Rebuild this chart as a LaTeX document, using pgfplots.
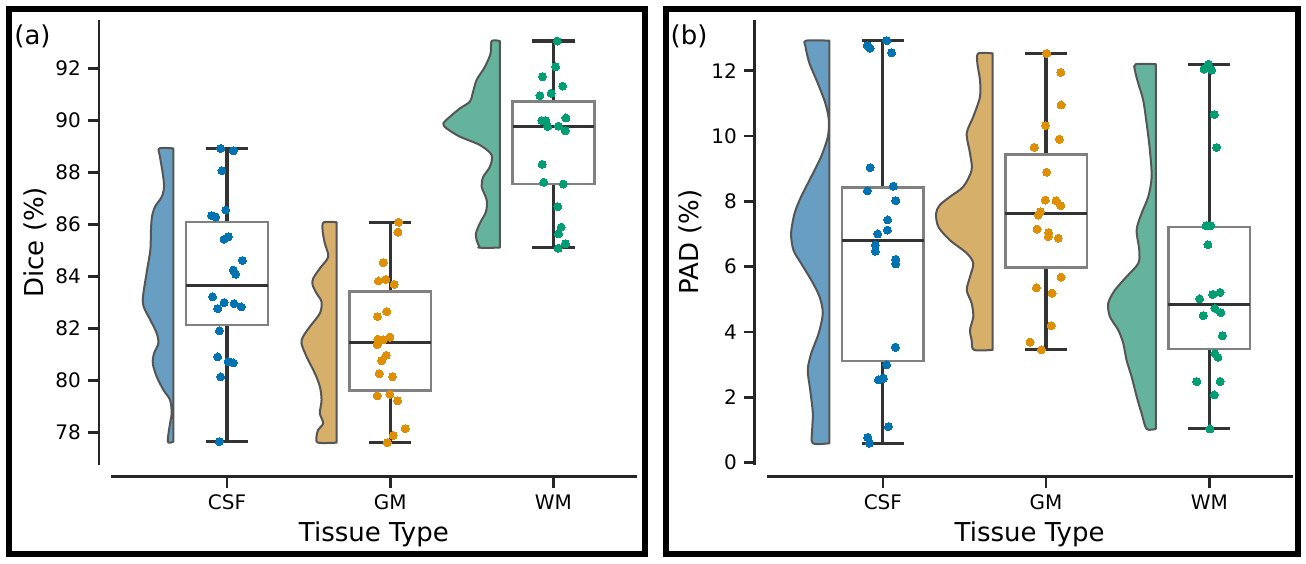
\documentclass[border=0pt]{standalone}
\usepackage{fontspec}
\setmainfont{DejaVu Sans}
\usepackage{pgfplots}
\pgfplotsset{compat=1.18}
\usepgfplotslibrary{statistics}
\definecolor{cbBlue}{HTML}{0173B2}
\definecolor{cbOrange}{HTML}{DE8F05}
\definecolor{cbGreen}{HTML}{029E73}
\definecolor{vBlue}{RGB}{103,158,194}
\definecolor{vOrange}{RGB}{214,175,107}
\definecolor{vGreen}{RGB}{102,179,157}
\definecolor{edgeGray}{RGB}{85,85,85}
\definecolor{boxGray}{RGB}{128,128,128}
\definecolor{darkGray}{RGB}{51,51,51}
\pgfplotsset{
  rain/.style={
    scale only axis, width=262.85pt, height=222.25pt, anchor=south west,
    xmin=-0.711, xmax=2.510,
    axis lines=left, axis line style={-, line width=1.35pt, color=black!85},
    axis x line shift=6pt, axis y line shift=6pt,
    tick align=outside, major tick length=5.5pt,
    tick style={line width=1.35pt, color=black!85},
    xtick={0,1,2}, xticklabels={CSF,GM,WM},
    ticklabel style={font=\fontsize{10}{12}\selectfont},
    /pgf/number format/assume math mode=true,
    every axis x label/.style={at={(axis description cs:0.5,0)}, anchor=base, yshift=-38.6pt, font=\fontsize{13}{15}\selectfont},
    every axis y label/.style={at={(axis description cs:0,0.5)}, xshift=-38pt, anchor=center, rotate=90, font=\fontsize{13}{15}\selectfont},
    xlabel={Tissue Type},
    clip=false,
  },
  vio/.style={draw=edgeGray, line width=1pt, line join=round, fill=#1, smooth, tension=0.5},
  pts/.style={only marks, mark=*, mark size=2pt, mark options={draw=#1, fill=#1, line width=0pt}},
  mybox/.style={boxplot/draw direction=y, boxplot/box extend=0.5, boxplot/whisker extend=0.26,
    draw=boxGray, line width=1.25pt,
    boxplot/every whisker/.style={draw=darkGray, line width=1.6pt},
    boxplot/every median/.style={draw=darkGray, line width=1.5pt}},
}
\begin{document}
\begin{tikzpicture}
\useasboundingbox (0,0) rectangle (653pt,281.5pt);
\draw[line width=3pt] (4.5pt,4.5pt) rectangle (322.5pt,277pt);
\draw[line width=3pt] (332.85pt,4.5pt) rectangle (649pt,277pt);
\node[font=\fontsize{13}{15}\selectfont] at (16.25pt,263.15pt) {(a)};
\node[font=\fontsize{13}{15}\selectfont] at (344.5pt,263.15pt) {(b)};
% ---------- panel (a) ----------
\begin{axis}[rain, at={(55.5pt,49.25pt)}, ymin=76.76, ymax=93.86, ytick={78,80,...,92}, ylabel={Dice (\%)}]
\addplot[vio=vBlue] coordinates {(-0.329,88.92) (-0.415,88.92) (-0.411,88.60) (-0.394,87.96) (-0.386,87.45) (-0.400,87.06) (-0.441,86.68) (-0.460,86.29) (-0.466,85.78) (-0.470,85.01) (-0.490,84.24) (-0.515,83.22) (-0.511,82.83) (-0.470,82.32) (-0.431,81.81) (-0.421,81.42) (-0.447,81.04) (-0.455,80.65) (-0.431,80.14) (-0.390,79.63) (-0.349,79.24) (-0.339,78.73) (-0.349,78.35) (-0.363,77.64) (-0.329,77.64)} -- cycle;
\addplot[vio=vOrange] coordinates {(0.671,86.08) (0.593,86.08) (0.585,85.78) (0.599,85.27) (0.620,84.75) (0.569,84.31) (0.528,83.92) (0.524,83.67) (0.548,83.35) (0.579,83.02) (0.569,82.58) (0.507,82.06) (0.466,81.68) (0.456,81.42) (0.487,80.91) (0.538,80.27) (0.569,79.75) (0.579,79.24) (0.569,78.73) (0.589,78.35) (0.558,78.09) (0.548,77.83) (0.558,77.60) (0.671,77.60)} -- cycle;
\addplot[vio=vGreen] coordinates {(1.672,93.05) (1.621,93.05) (1.615,92.58) (1.580,92.06) (1.529,91.55) (1.505,91.04) (1.488,90.72) (1.427,90.46) (1.366,90.14) (1.325,89.88) (1.345,89.69) (1.427,89.37) (1.549,89.05) (1.621,88.67) (1.611,88.22) (1.570,87.83) (1.560,87.45) (1.591,86.93) (1.586,86.48) (1.549,86.04) (1.525,85.65) (1.529,85.40) (1.545,85.14) (1.545,85.10) (1.672,85.10)} -- cycle;
\addplot[mybox, boxplot prepared={draw position=0, lower whisker=77.64, lower quartile=82.13, median=83.63, upper quartile=86.08, upper whisker=88.92}] coordinates {};
\addplot[mybox, boxplot prepared={draw position=1, lower whisker=77.60, lower quartile=79.60, median=81.45, upper quartile=83.41, upper whisker=86.08}] coordinates {};
\addplot[mybox, boxplot prepared={draw position=2, lower whisker=85.10, lower quartile=87.55, median=89.78, upper quartile=90.72, upper whisker=93.05}] coordinates {};
\addplot[pts=cbBlue] coordinates {(-0.039,88.92) (0.038,88.83) (-0.031,88.06) (-0.008,86.55) (-0.094,86.34) (-0.069,86.28) (-0.018,85.43) (0.008,85.52) (0.094,84.61) (0.038,84.24) (0.053,84.08) (-0.088,83.21) (-0.018,82.99) (-0.057,82.76) (0.043,82.95) (0.088,82.82) (-0.047,81.90) (-0.057,80.90) (0.008,80.72) (0.038,80.67) (-0.039,80.13) (-0.047,77.64)};
\addplot[pts=cbOrange] coordinates {(1.051,86.08) (1.047,85.70) (0.957,84.53) (0.928,83.82) (0.973,83.88) (1.024,83.69) (0.979,82.64) (0.922,82.45) (0.998,81.66) (0.924,81.58) (0.957,81.56) (0.920,81.37) (0.975,80.96) (0.948,80.75) (0.932,80.25) (1.014,80.14) (0.920,79.40) (0.998,79.46) (1.045,79.21) (1.092,78.14) (1.018,77.88) (0.981,77.60)};
\addplot[pts=cbGreen] coordinates {(2.023,93.05) (2.013,92.06) (1.933,91.68) (2.056,91.32) (1.986,91.04) (1.917,90.95) (2.076,90.09) (1.929,89.99) (1.953,89.99) (1.964,89.76) (2.031,89.78) (2.072,89.60) (1.931,88.31) (1.941,87.62) (2.060,87.55) (2.027,86.68) (2.047,85.89) (2.031,85.63) (2.074,85.25) (2.029,85.08)};
\end{axis}
% ---------- panel (b) ----------
\begin{axis}[rain, at={(383.4pt,49.25pt)}, ymin=-0.061, ymax=13.553, ytick={0,2,...,12}, ylabel={PAD (\%)}]
\addplot[vio=vBlue] coordinates {(-0.327,12.92) (-0.470,12.92) (-0.474,12.74) (-0.450,12.23) (-0.398,11.61) (-0.352,11.00) (-0.331,10.49) (-0.337,9.98) (-0.378,9.37) (-0.439,8.75) (-0.501,8.14) (-0.541,7.63) (-0.562,7.02) (-0.548,6.51) (-0.501,6.10) (-0.439,5.59) (-0.388,5.08) (-0.368,4.57) (-0.393,3.96) (-0.439,3.34) (-0.460,2.83) (-0.445,2.22) (-0.429,1.51) (-0.433,1.00) (-0.429,0.59) (-0.327,0.59)} -- cycle;
\addplot[vio=vOrange] coordinates {(0.673,12.53) (0.585,12.53) (0.579,12.23) (0.595,11.72) (0.595,11.20) (0.554,10.59) (0.514,10.08) (0.534,9.47) (0.544,8.96) (0.493,8.45) (0.411,8.14) (0.350,7.89) (0.326,7.63) (0.340,7.22) (0.411,6.81) (0.514,6.41) (0.554,6.10) (0.534,5.69) (0.514,5.28) (0.544,4.88) (0.554,4.47) (0.534,4.06) (0.544,3.75) (0.558,3.45) (0.673,3.45)} -- cycle;
\addplot[vio=vGreen] coordinates {(1.673,12.20) (1.550,12.20) (1.544,12.02) (1.565,11.61) (1.595,11.10) (1.616,10.39) (1.636,9.57) (1.647,8.75) (1.626,8.14) (1.585,7.63) (1.555,7.12) (1.571,6.51) (1.565,6.10) (1.493,5.69) (1.422,5.28) (1.381,4.88) (1.391,4.47) (1.442,4.06) (1.473,3.65) (1.493,3.14) (1.524,2.63) (1.555,2.02) (1.585,1.51) (1.616,1.03) (1.673,1.03)} -- cycle;
\addplot[mybox, boxplot prepared={draw position=0, lower whisker=0.59, lower quartile=3.11, median=6.81, upper quartile=8.42, upper whisker=12.92}] coordinates {};
\addplot[mybox, boxplot prepared={draw position=1, lower whisker=3.45, lower quartile=5.97, median=7.63, upper quartile=9.44, upper whisker=12.53}] coordinates {};
\addplot[mybox, boxplot prepared={draw position=2, lower whisker=1.03, lower quartile=3.47, median=4.85, upper quartile=7.22, upper whisker=12.20}] coordinates {};
\addplot[pts=cbBlue] coordinates {(0.024,12.92) (-0.095,12.77) (-0.078,12.69) (0.054,12.55) (-0.078,9.03) (0.064,8.46) (-0.095,8.32) (0.079,8.02) (0.030,7.43) (0.028,7.12) (-0.031,7.00) (-0.046,6.66) (-0.046,6.47) (0.079,6.22) (0.079,6.08) (0.077,3.53) (0.024,2.99) (0.003,2.58) (-0.028,2.53) (0.034,1.10) (-0.093,0.77) (-0.083,0.59)};
\addplot[pts=cbOrange] coordinates {(1.004,12.53) (1.090,11.95) (1.092,10.95) (0.996,10.32) (1.082,9.90) (0.928,9.65) (1.004,8.89) (0.996,8.04) (1.061,8.02) (1.090,7.87) (0.965,7.68) (0.953,7.58) (0.945,7.15) (1.016,7.04) (1.014,6.92) (1.075,6.87) (1.092,5.68) (0.941,5.35) (1.037,5.19) (1.031,4.19) (0.902,3.69) (0.971,3.45)};
\addplot[pts=cbGreen] coordinates {(1.994,12.20) (1.968,12.05) (2.015,12.02) (2.031,10.66) (2.045,9.65) (1.980,7.25) (2.009,7.25) (1.992,6.67) (2.021,5.15) (2.066,5.21) (1.941,5.01) (2.035,4.72) (2.070,4.59) (1.963,4.50) (2.080,3.88) (2.035,3.34) (2.053,3.22) (1.923,2.48) (2.066,2.48) (2.031,2.07) (2.004,1.03)};
\end{axis}
\end{tikzpicture}
\end{document}
